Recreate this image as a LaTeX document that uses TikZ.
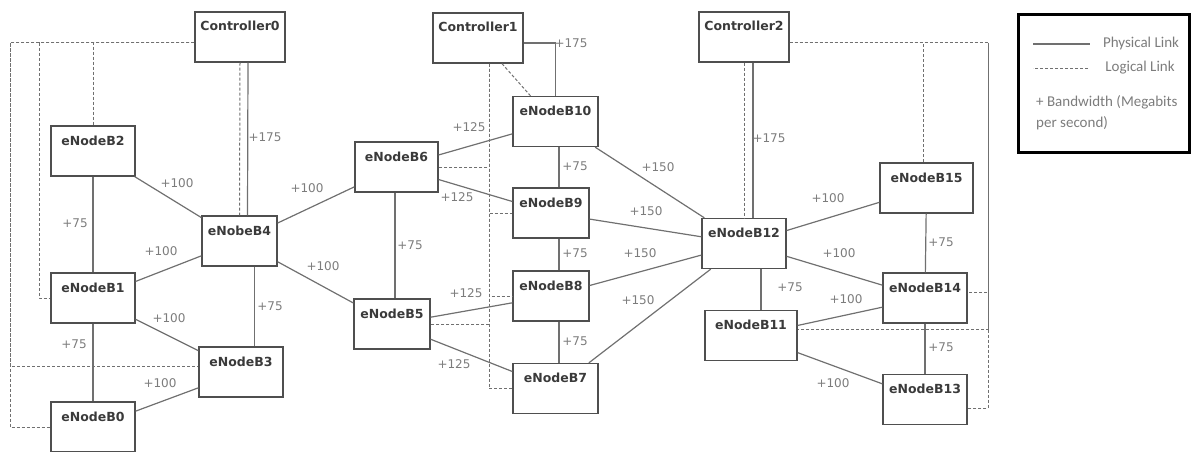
\documentclass[tikz,border=0pt]{standalone}
\usepackage{fontspec}
\setmainfont{DejaVu Sans}
\newfontfamily\legendfont{Carlito}
\usepackage{tikz}
\newcommand{\defaultenbwidth}{84pt}
\newcommand{\enbwidth}{\defaultenbwidth}
\definecolor{boxgray}{HTML}{4F4F4F}
\definecolor{linkgray}{HTML}{707070}
\definecolor{labelgray}{HTML}{7C7C7C}
\definecolor{namegray}{HTML}{3A3A3A}
\tikzstyle{enodeb}=[draw=boxgray, line width=1.3pt, inner sep=0, minimum width=\enbwidth,
                    text height=19pt, text depth=31pt, text=namegray,
                    font=\fontsize{12.5}{14}\selectfont\bfseries]
\tikzstyle{controller}=[enodeb, minimum width=90pt]
\tikzstyle{physical}=[draw=linkgray, line width=1.2pt]
\tikzstyle{logical}=[draw=linkgray, line width=1pt, dash pattern=on 3pt off 2pt]
\tikzstyle{bw}=[inner sep=0, text=labelgray, font=\fontsize{12}{14}\selectfont]
\tikzstyle{legendtext}=[inner sep=0, text=labelgray, font=\legendfont\fontsize{15}{21}\selectfont]
\tikzstyle{ltenetwork}=[x=1pt, y=-1pt, line join=miter]

\begin{document}
\begin{tikzpicture}[ltenetwork]
        \useasboundingbox (0,0) rectangle (1193,452);
        % controllers
        \node[controller] (C0) at (240,37) {Controller0};
        \node[controller] (C1) at (478,38) {Controller1};
        \node[controller] (C2) at (744,37) {Controller2};
        % eNodeBs
        \node[enodeb]                      (B2)  at (93,151)    {eNodeB2};
        \node[enodeb, minimum width=75pt]  (B4)  at (239.5,241) {eNobeB4};
        \node[enodeb]                      (B1)  at (93,298)    {eNodeB1};
        \node[enodeb]                      (B3)  at (241,372)   {eNodeB3};
        \node[enodeb]                      (B0)  at (93,427)    {eNodeB0};
        \node[enodeb, minimum width=83pt]  (B6)  at (396.5,167) {eNodeB6};
        \node[enodeb, minimum width=76pt]  (B5)  at (392,324)   {eNodeB5};
        \node[enodeb, minimum width=85pt]  (B10) at (555.5,121.5) {eNodeB10};
        \node[enodeb, minimum width=76pt]  (B9)  at (551,213)   {eNodeB9};
        \node[enodeb, minimum width=76pt]  (B8)  at (551,296)   {eNodeB8};
        \node[enodeb, minimum width=85pt]  (B7)  at (555.5,388.5) {eNodeB7};
        \node[enodeb]                      (B12) at (744,243.5) {eNodeB12};
        \node[enodeb, minimum width=92pt]  (B11) at (751,335.5) {eNodeB11};
        \node[enodeb, minimum width=93pt]  (B15) at (926.5,188) {eNodeB15};
        \node[enodeb]                      (B14) at (925,298)   {eNodeB14};
        \node[enodeb]                      (B13) at (925,399.5) {eNodeB13};
        % physical links
        \draw[physical] ([xshift=8pt]C0.south) -- ([xshift=8pt]B4.north);
        \draw[physical] (B2) -- (B4);
        \draw[physical] (B2) -- (B1);
        \draw[physical] (B1) -- (B4);
        \draw[physical] (B1) -- (B3);
        \draw[physical] (B1) -- (B0);
        \draw[physical] (B0) -- (B3);
        \draw[physical] ([xshift=15pt]B4.south) -- ([xshift=15pt]B4.south |- B3.north);
        \draw[physical] (B4) -- (B6);
        \draw[physical] (B4) -- (B5);
        \draw[physical] ([xshift=-1.5pt]B6.south) -- ([xshift=3pt]B5.north);
        \draw[physical] (B6) -- (B10);
        \draw[physical] (B6) -- (B9);
        \draw[physical] (B5) -- (B8);
        \draw[physical] (B5) -- (B7);
        \draw[physical] ([yshift=-5pt]C1.east) -| (B10.north);
        \draw[physical] ([xshift=8pt]B9.north) -- ([xshift=8pt]B9.north |- B10.south);
        \draw[physical] ([xshift=8pt]B9.south) -- ([xshift=8pt]B8.north);
        \draw[physical] ([xshift=8pt]B8.south) -- ([xshift=8pt]B8.south |- B7.north);
        \draw[physical] (B10) -- (B12);
        \draw[physical] (B9) -- (B12);
        \draw[physical] (B8) -- (B12);
        \draw[physical] (B7) -- (B12);
        \draw[physical] ([xshift=9pt]C2.south) -- ([xshift=9pt]B12.north);
        \draw[physical] ([xshift=17pt]B12.south) -- ([xshift=17pt]B12.south |- B11.north);
        \draw[physical] (B12) -- (B15);
        \draw[physical] (B12) -- (B14);
        \draw[physical] (B15) -- (B14);
        \draw[physical] (B11) -- (B14);
        \draw[physical] (B14) -- (B13);
        \draw[physical] (B11) -- (B13);
        % logical links
        \coordinate (c0left) at (10,43);
        \coordinate (c0mid)  at (39,43);
        \coordinate (c2right) at (988,43);
        \draw[logical] ([yshift=-6pt]C0.west) -| (B2.north);
        \draw[logical] ([yshift=-6pt]C0.west) -| (c0mid) |- (B1.west);
        \draw[logical] ([yshift=-6pt]C0.west) -- (c0left) |- (B0.west);
        \draw[logical] (c0left) |- ([yshift=6pt]B3.west);
        \draw[logical] (C0.south) -- (B4.north);
        \draw[logical] ([xshift=11pt]C1.south) |- (B6.east);
        \draw[logical] ([xshift=11pt]C1.south) |- (B9.west);
        \draw[logical] ([xshift=11pt]C1.south) |- (B8.west);
        \draw[logical] ([xshift=11pt]C1.south) |- (B5.east);
        \draw[logical] ([xshift=11pt]C1.south) |- (B7.west);
        \draw[logical] ([xshift=24pt]C1.south) -- ([xshift=-25pt]B10.north);
        \draw[logical] (C2.south) -- (B12.north);
        \draw[logical] ([yshift=-6pt]C2.east) -| ([xshift=-3pt]B15.north);
        \draw[logical] ([yshift=-6pt]C2.east) -- (c2right) |- ([yshift=-8.5pt]B13.east);
        \draw[logical] (c2right) |- ([yshift=6pt]B14.east);
        \draw[logical] (c2right) |- ([yshift=6.5pt]B11.east);
        % bandwidths
        \node[bw] (bwc0)   at (265,137) {+175};
        \node[bw] (bw24)   at (177,183) {+100};
        \node[bw] (bw21)   at (75,223)  {+75};
        \node[bw] (bw14)   at (161,251) {+100};
        \node[bw] (bw43)   at (270,306) {+75};
        \node[bw] (bw13)   at (169,318) {+100};
        \node[bw] (bw10)   at (74,344)  {+75};
        \node[bw] (bw03)   at (160,383) {+100};
        \node[bw] (bw46)   at (307,188) {+100};
        \node[bw] (bw45)   at (323,266) {+100};
        \node[bw] (bw65)   at (410,245) {+75};
        \node[bw] (bw610)  at (469,127) {+125};
        \node[bw] (bw69)   at (457,197) {+125};
        \node[bw] (bw58)   at (466,293) {+125};
        \node[bw] (bw57)   at (454,364) {+125};
        \node[bw] (bwc1)   at (571,43)  {+175};
        \node[bw] (bw109)  at (575,166) {+75};
        \node[bw] (bw98)   at (575,253) {+75};
        \node[bw] (bw87)   at (575,341) {+75};
        \node[bw] (bw1012) at (658,167) {+150};
        \node[bw] (bw912)  at (646,211) {+150};
        \node[bw] (bw812)  at (640,253) {+150};
        \node[bw] (bw712)  at (638,300) {+150};
        \node[bw] (bwc2)   at (769,138) {+175};
        \node[bw] (bw1215) at (828,198) {+100};
        \node[bw] (bw1514) at (941,242) {+75};
        \node[bw] (bw1214) at (839,253) {+100};
        \node[bw] (bw1211) at (790,287) {+75};
        \node[bw] (bw1114) at (846,299) {+100};
        \node[bw] (bw1413) at (941,347) {+75};
        \node[bw] (bw1113) at (833,383) {+100};
        % legend
        \node[draw=black, line width=3pt, inner sep=0, minimum width=171pt, minimum height=137pt] (legend) at (1103.5,83.5) {};
        \node[legendtext] (phys) at (1141,44) {Physical Link};
        \node[legendtext] (logi) at (1140,68) {Logical Link};
        \node[legendtext, anchor=west, align=left] (bwnote) at (1036,113) {+ Bandwidth (Megabits\\per second)};
        \draw[physical, line width=2pt] ([xshift=-13pt]phys.west) -- ++(-57,0);
        \draw[logical] ([xshift=-17pt]logi.west) -- ++(-55,0);
\end{tikzpicture}
\end{document}
